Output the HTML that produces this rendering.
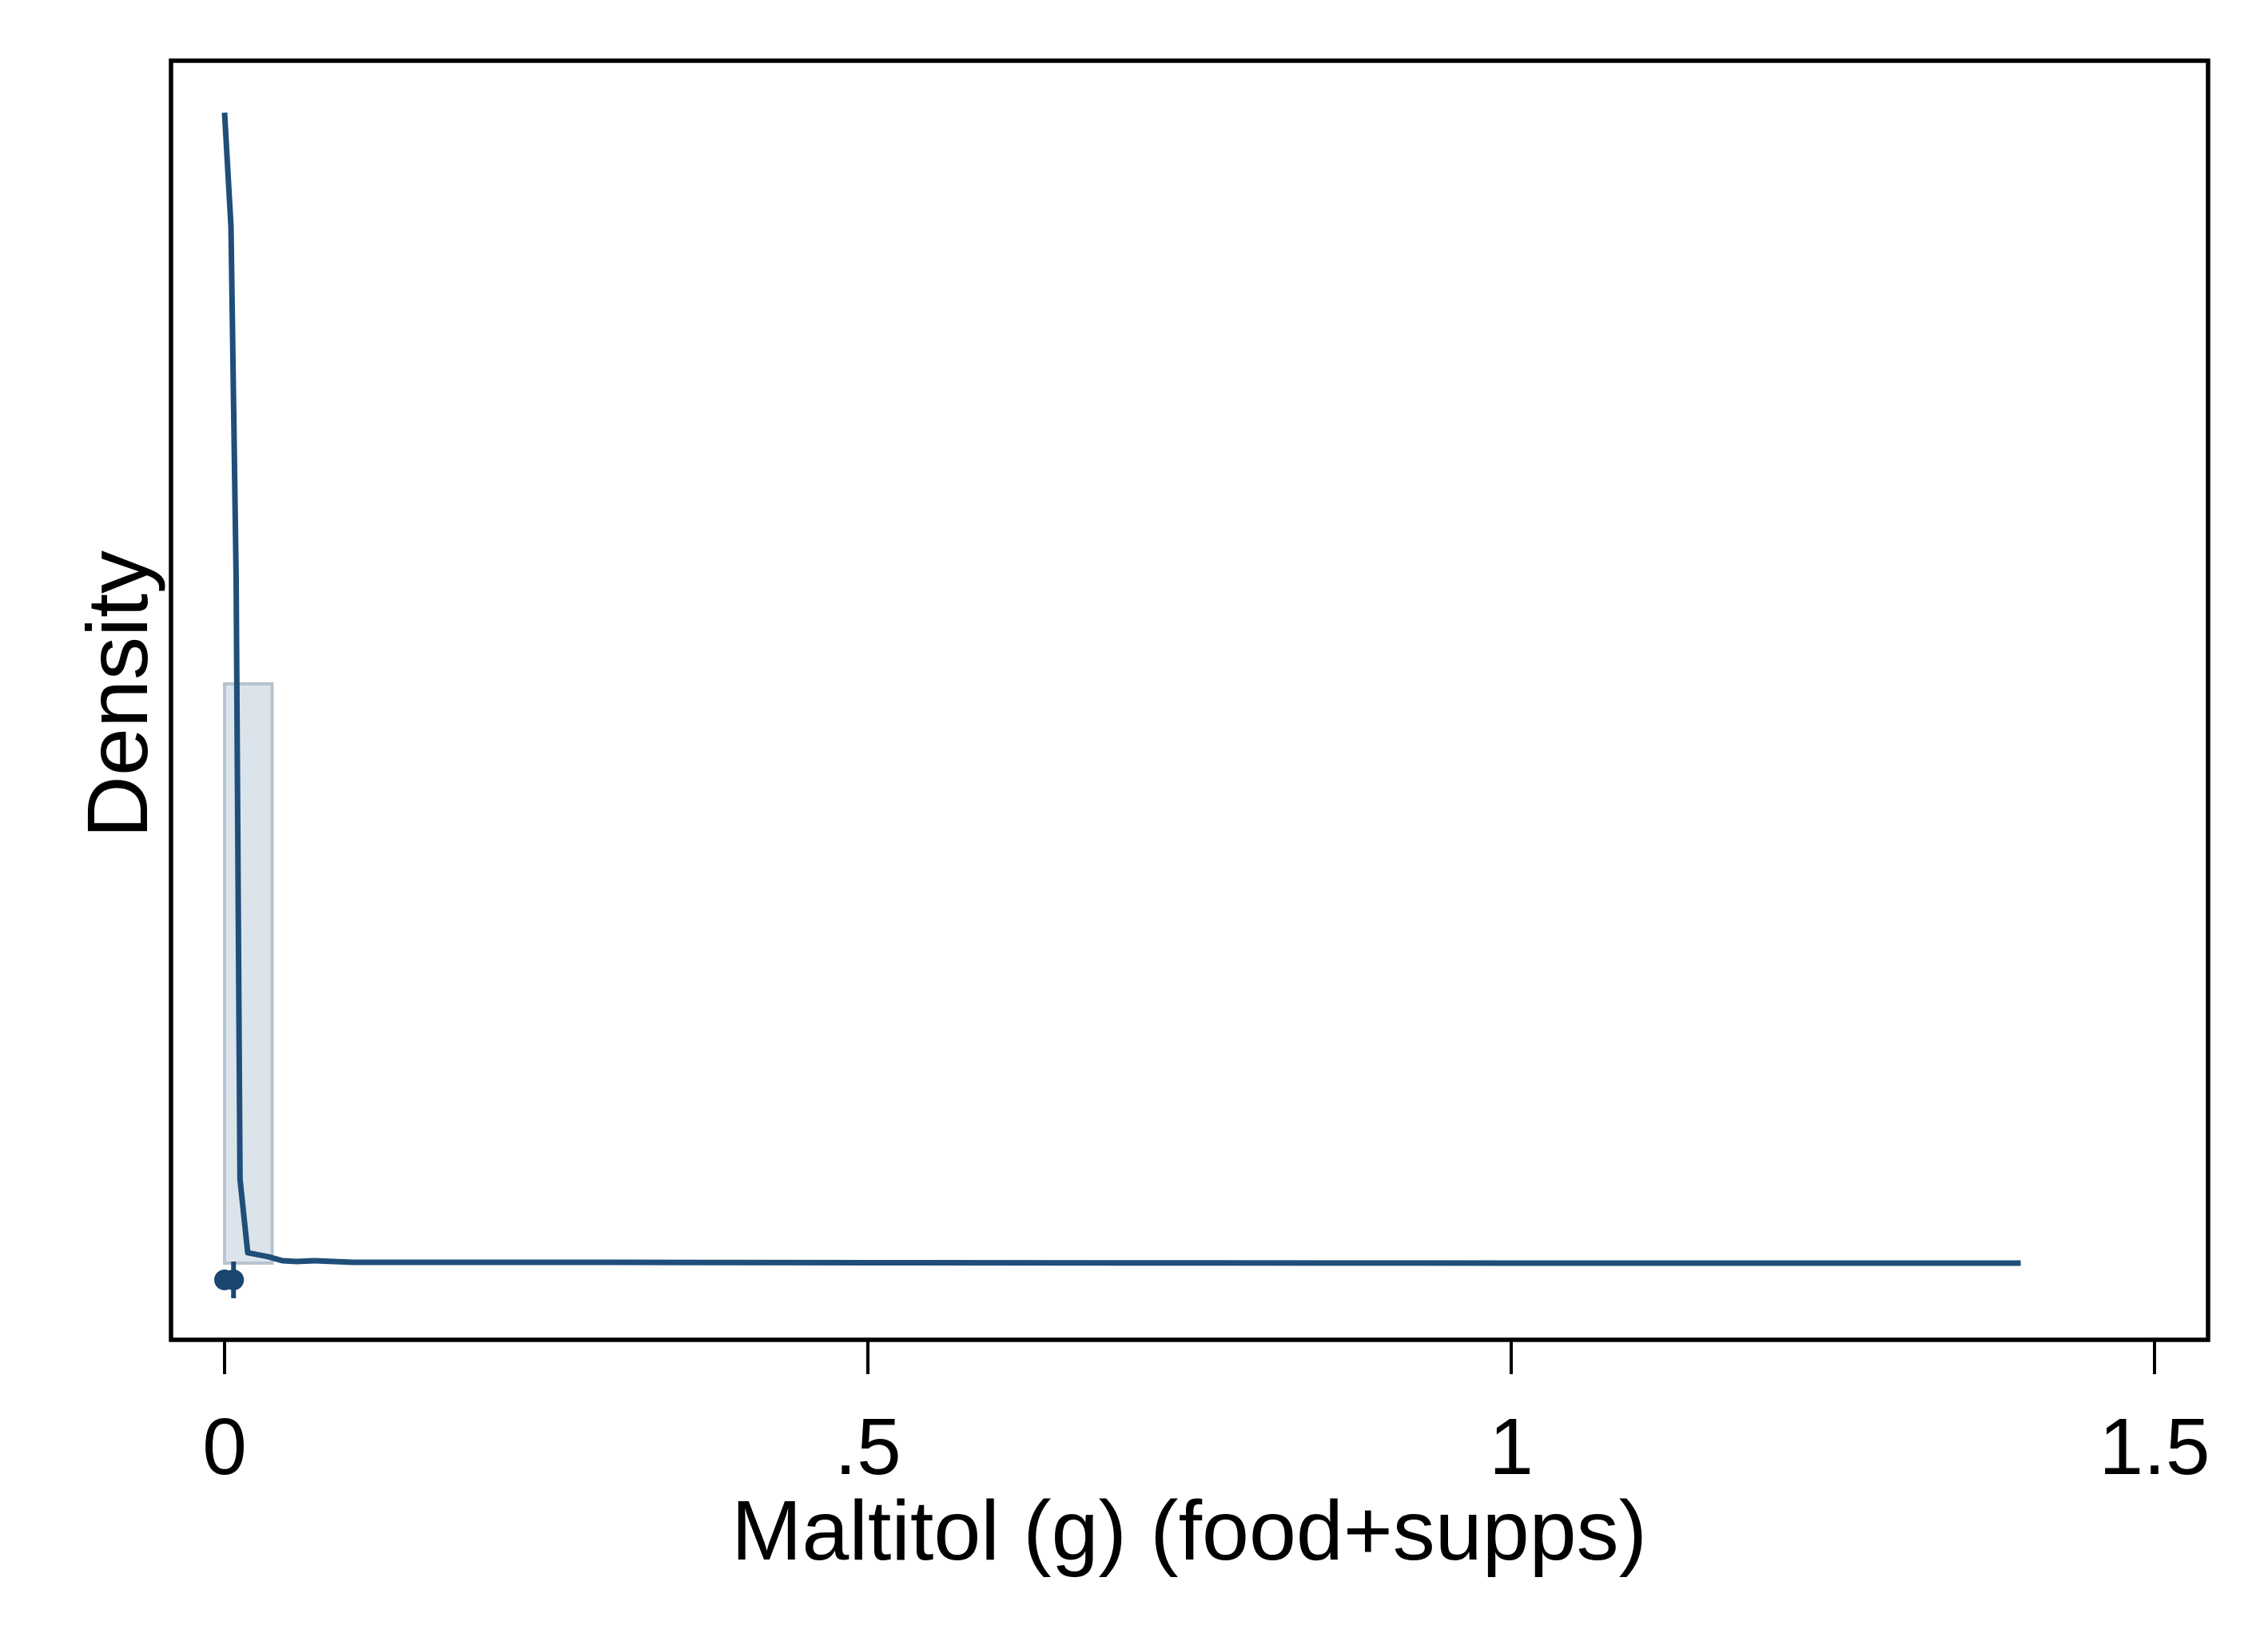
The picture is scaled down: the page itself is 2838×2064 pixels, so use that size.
<!DOCTYPE html>
<html><head><meta charset="utf-8"><style>
html,body{margin:0;padding:0;background:#fff;}
svg{display:block;font-family:"Liberation Sans",Arial,sans-serif;}
</style></head><body>
<svg id="chart" width="2838" height="2064" viewBox="0 0 2838 2064" xmlns="http://www.w3.org/2000/svg">
<rect x="0" y="0" width="2838" height="2064" fill="#fff"/>
<g id="marks"></g>
<rect x="214" y="76" width="2549" height="1601" fill="none" stroke="#000" stroke-width="5.5"/>
<g id="axis"></g>
<text x="1488" y="1952" font-size="106" text-anchor="middle" fill="#000">Maltitol (g) (food+supps)</text>
<text transform="translate(184,869) rotate(-90)" font-size="108" text-anchor="middle" fill="#000">Density</text>
</svg>
<script>
const xTicks = [0, 0.5, 1, 1.5];
const xTickLabels = ["0", ".5", "1", "1.5"];
const binEdges = [0, 0.037];
const binHeights = [72.5];
const densX = [0, 0.005, 0.009, 0.012, 0.018, 0.034, 0.045, 0.056, 0.07, 0.1, 0.3, 0.5, 1.0, 1.396];
const densY = [144, 129.7, 85.7, 10.5, 1.3, 0.8, 0.3, 0.2, 0.3, 0.1, 0.1, 0.05, 0.0, 0.0];
const rugX = [0.0, 0.007];

const NS = "http://www.w3.org/2000/svg";
function sx(v){ return 281 + v * 1610; }
function sy(v){ return 1581 - v * 10; }
const marks = document.getElementById('marks');
const axis = document.getElementById('axis');

for (let i = 0; i < binHeights.length; i++) {
  const r = document.createElementNS(NS, 'rect');
  
  
  r.setAttribute('x', sx(binEdges[i]));
  r.setAttribute('y', sy(binHeights[i]));
  r.setAttribute('width', sx(binEdges[i+1]) - sx(binEdges[i]));
  r.setAttribute('height', sy(0) - sy(binHeights[i]));
  r.setAttribute('fill', '#dce4eb');
  r.setAttribute('stroke', '#b7c3ce');
  r.setAttribute('stroke-width', '4');
  marks.appendChild(r);
}

const p = document.createElementNS(NS, 'polyline');


p.setAttribute('points', densX.map((x, i) => sx(x) + ',' + sy(densY[i])).join(' '));
p.setAttribute('fill', 'none');
p.setAttribute('stroke', '#1f4e79');
p.setAttribute('stroke-width', '7');
p.setAttribute('stroke-linejoin', 'round');
marks.appendChild(p);

rugX.forEach(x => {
  const c = document.createElementNS(NS, 'circle');
  
  
  c.setAttribute('cx', sx(x));
  c.setAttribute('cy', 1602);
  c.setAttribute('r', 13);
  c.setAttribute('fill', '#1a476f');
  marks.appendChild(c);
});
const rl = document.createElementNS(NS, 'line');


rl.setAttribute('x1', sx(0.007)); rl.setAttribute('x2', sx(0.007));
rl.setAttribute('y1', 1579); rl.setAttribute('y2', 1625);
rl.setAttribute('stroke', '#1a476f'); rl.setAttribute('stroke-width', '6');
marks.appendChild(rl);

xTicks.forEach((t, i) => {
  const l = document.createElementNS(NS, 'line');
  
  
  l.setAttribute('x1', sx(t)); l.setAttribute('x2', sx(t));
  l.setAttribute('y1', 1677); l.setAttribute('y2', 1720);
  l.setAttribute('stroke', '#000'); l.setAttribute('stroke-width', '4');
  axis.appendChild(l);
  const tx = document.createElementNS(NS, 'text');
  
  
  tx.setAttribute('x', sx(t)); tx.setAttribute('y', 1845);
  tx.setAttribute('font-size', '100');
  tx.setAttribute('text-anchor', 'middle');
  tx.textContent = xTickLabels[i];
  axis.appendChild(tx);
});
</script>
</body></html>
